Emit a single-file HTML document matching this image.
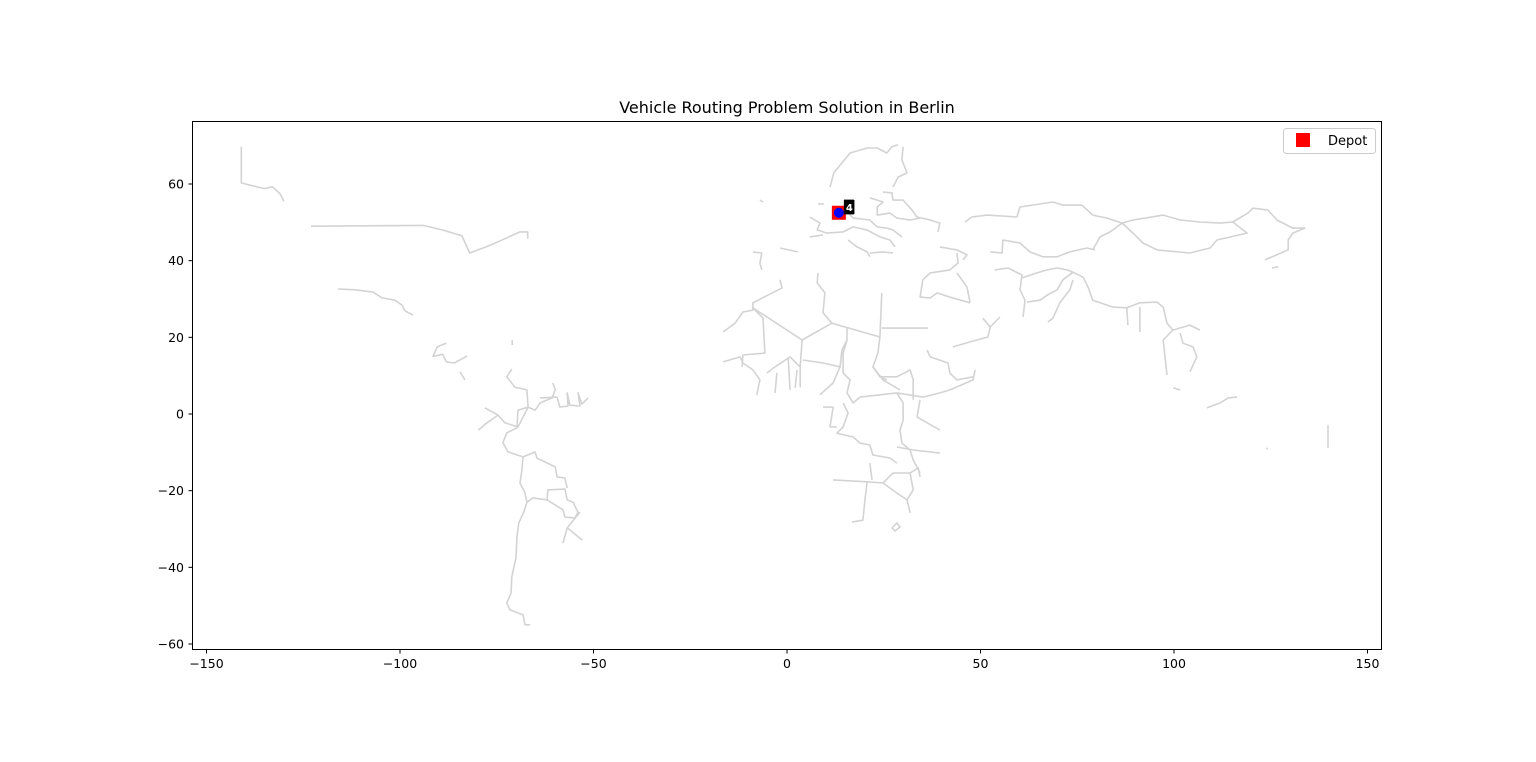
<!DOCTYPE html>
<html><head><meta charset="utf-8"><style>
html,body{margin:0;padding:0;background:#fff;}
svg{display:block;font-family:"DejaVu Sans","Liberation Sans",sans-serif;}
</style></head><body>
<svg id="chart" width="1536" height="762" viewBox="0 0 1536 762" xmlns="http://www.w3.org/2000/svg">
<rect width="1536" height="762" fill="#fff"/>
<text x="787" y="113" text-anchor="middle" font-size="16" fill="#000">Vehicle Routing Problem Solution in Berlin</text>
<g id="borders"></g>
<g id="axes"></g>
<g id="marks"></g>
<rect x="192.5" y="121.5" width="1189" height="528" fill="none" stroke="#000" stroke-width="1"/>
<g>
<rect x="1283.5" y="128.5" width="92" height="25" rx="3" fill="#fff" stroke="#ccc"/>
<rect x="1296" y="133" width="14" height="14" fill="#f00"/>
<text x="1328" y="145" font-size="13" fill="#000">Depot</text>
</g>
</svg>
<script>
const xTicks = [-150, -100, -50, 0, 50, 100, 150];
const yTicks = [60, 40, 20, 0, -20, -40, -60];
const depot = [13.4, 52.5];
const customerLabels = ["1", "2", "3", "4"];
const customerLon = [16.0, 16.1, 16.0, 16.1];
const customerLat = [54.1, 54.0, 53.9, 54.0];

const borders = [
"-141,69.7 -141,60.3 -138,59.5 -135,58.8 -133,59.3 -131,57.5 -130,55.5",
"-123,49 -94,49.2 -89,48 -84,46.5 -82,42 -76.7,44 -69,47.5 -67,47.5 -67,45.7",
"-116,32.6 -111.6,32.4 -107,31.8 -104.6,30.3 -101.3,29.7 -99.5,28.4 -98.7,26.9 -96.6,25.8",
"-88,18.5 -90.4,17.5 -91.5,15 -89,15.6 -88,13.6 -86,13.3 -82.7,15.1",
"-84.5,11 -83.2,8.9","-71,19.3 -71,18",
"-71.1,11.7 -72.4,9.7 -70.3,7 -67.2,6.3 -66.9,1.8 -65.1,1 -63.8,2.9 -60.7,4.2 -59.9,6.3 -60.5,8.1",
"-63.8,4.2 -59.4,4.4 -58.7,1.8 -56.6,2.1 -56.8,5.5 -56.1,2.3 -53.5,2.1 -54,5.5 -53,2.6 -51.4,4.2",
"-78,1.6 -74.7,-0.3 -72.9,-2.3 -69.5,-3.4 -66.9,1.8",
"-79.8,-4.2 -77.5,-2.3 -74.7,-0.3",
"-66.9,1.8 -69.5,1 -69.8,-3.6 -72.4,-4.9 -73.4,-7.5 -72.1,-9.9 -68.2,-11.2 -65.1,-9.9 -64.6,-11.5 -59.9,-13.8 -59.4,-16.4 -57.4,-16.7 -56.8,-19.3",
"-68.2,-11.2 -68.5,-14.6 -69,-18 -67.7,-20.6 -67.2,-23 -65.6,-21.9 -62,-22.4 -61.8,-19.8 -57.4,-19.6 -56.8,-22.4 -55.3,-23 -54,-25.6 -54.8,-27.1 -57.4,-26.9 -57.9,-25 -62,-22.4",
"-53.5,-25.6 -56.8,-29.7 -57.9,-33.7","-56.8,-29.7 -52.9,-32.9",
"-67.2,-23 -68,-25.6 -69.3,-28.4 -69.8,-32.1 -70,-37.3 -71.1,-42.5 -71.3,-46.7 -72.4,-49.3 -71.6,-51.1 -68.2,-52.4 -67.7,-55 -66.4,-55",
"11.1,59.2 12.1,62.9 14.2,65.5 16.3,68.1 20.7,69.4 23.3,69.4 25.8,68.1 27.1,69.7 28.7,70.2",
"30,69.7 29.7,66.3 31,62.9 28.7,61.8 27.4,59.2",
"24.8,57.9 27.1,57.7 27.4,55.8 30,55.8 32.3,53.2 33.6,51.4 37,50.6 39.5,49.8 39,47.5",
"21.4,56.4 24.8,55.3 23.3,54 23.3,51.9 26.6,52.4 28.4,51.1 31.8,50.6 34.4,51.1",
"15.5,52.7 17.1,51.1 21.4,50.6 23.3,48.8 25.8,48.5 27.4,48 29.7,46.2",
"5.9,51.4 8.5,49.8 7.8,48 10.3,47.2 14.5,47.5 17.1,48.8 20.7,48 24,46.2 26.6,45.4 27.9,43.6",
"5.9,46.2 9.3,46.7","15.8,45.4 18.1,43.6 20.7,42.3 21.4,41","21.4,42 24.8,42.3 27.4,42",
"-7,55.8 -6.2,55.3","8,54.8 9.5,54.8",
"39.5,43.6 43.9,42.8 46.5,41.5 45.5,40.2",
"43.9,42 44.2,39.4 42.1,37.6 37,36.8 35.1,35 34.4,30.5 37,30.3 38.8,31.6 42.1,30.5 47.3,29",
"47.3,29 46.5,33.1 43.9,36.8",
"-8.8,42.3 -6.5,42 -7,39.4 -6.5,37.6","-1.8,43.3 2.8,42.3",
"-1.8,35 -1.3,32.9 -8.8,29 -8.8,27.1 -11.4,26.6 -13.4,23.7 -16.5,21.4",
"-8.8,27.7 -6.2,25 -5.7,15.9 -11.4,15.4 -11.6,12.3",
"-8.8,27.7 3.9,19.3 3.4,12.3",
"3.9,19.3 11.6,23.7 15,22.7 24,20.1 24.5,31.6",
"8,36.8 7.8,34.2 9.8,31.6 9.3,26.4 11.6,23.7",
"24.5,22.4 36.4,22.4",
"15.5,22.7 15.5,19.3 14.2,16.7 13.7,12.3",
"24,20.1 23.5,15.9 22.2,12.3 24,9.7 25.8,8.9",
"-16.5,13.6 -12.1,14.9 -11.4,13.3 -8.8,11.5 -7,8.9 -7.8,5",
"-5.2,10.7 -3.1,12.3 0.8,14.9 3.4,12.3 3.4,7",
"0.3,14.6 0.8,6.3","-2.6,10.7 -3.1,5.5","2.6,11.5 2.1,6.8",
"4.1,14.1 9.3,13.3 13.7,12.3 11.9,8.1 8.5,5",
"15.5,19.3 14.5,15.9 14.5,10.7 16.3,8.9 15.5,5.5 17.1,2.9 18.9,4.4 28.4,5.5 35.1,4.4 39.5,5.5 42.1,6.3 48.1,8.9 48.6,11.5",
"22.2,12.3 24.8,8.9 29.2,6.3",
"24,9.7 28.4,9.7 31.8,11.5 32.6,8.9 32.6,3.7",
"36.2,16.7 37,14.9 41.6,13.3 42.1,10.7 43.9,8.9 48.1,9.7",
"9.3,1.8 11.9,1.8 11.1,-3.4 12.9,-3.4",
"14.5,2.9 15.8,0.3 14.5,-3.4 12.9,-5 17.1,-6 18.9,-7.6 21.4,-8.1 22.2,-10.7 26.6,-11.5 28.4,-12.8",
"28.4,5.5 30,2.9 30,-1.6 29.2,-4.2 29.7,-7.6 31.8,-9.4 32.6,-12 34.4,-15.4",
"34.4,3.7 33.6,-0.8 39.5,-4.2","28.4,-8.6 32.6,-9.4 39.5,-10.2",
"11.9,-17.2 20.7,-17.7 24.8,-18 28.4,-20.6 31,-22.4 32.6,-19.8 31.8,-15.4",
"20.7,-17.7 20.2,-21.9 19.6,-27.7 16.8,-28.2",
"21.4,-12.8 22,-17.2",
"24.8,-18 27.4,-15.4 31.8,-15.4 33.9,-14.1 34.4,-16.4",
"31,-22.4 31.8,-25.8",
"27.1,-29.7 28.4,-28.4 29.2,-29.5 27.9,-30.5 27.1,-29.7",
"50.6,25 52.5,22.7 55,25.3","52.5,22.7 51.9,20.1 47.3,18.8 42.9,17.5",
"46,50.1 47.8,51.4 51.7,51.9 59.4,51.4 60.2,54 68.7,55.3 71.3,54.5 76.2,54.5 79,51.9 82.7,51.1 86.6,49.8 83.5,47.5 80.9,46.2 79,42.8",
"86.6,49.8 89.4,50.6 97.2,51.9 101.6,50.6 106.7,50.1 111.9,49.8 115.2,50.1 118.9,47.2 111.1,45.4 109.3,43.3 104.1,42 95.6,42.8 92,44.6 89.4,47.2 86.6,49.8",
"115.2,50.1 119.1,52.4 120.4,53.7 124.3,53.2 126.6,50.6 130.7,48.5 133.8,48.5 130.7,47.2 129.5,45.4 129.5,42.8 123.5,40.2",
"125.3,38.1 126.9,38.4",
"52.5,42.3 55.6,42 55.8,45.4 60.2,44.6 62.8,42.3 66.1,41 69.8,41 73.1,42.3 77.5,43.3 79.6,42.8",
"53.7,37.6 57.1,38.1 60.7,36.3 60.2,32.4 61.5,29.7 61,25.3",
"60.7,35.5 64.6,36.8 67.2,37.6 69.8,38.1 72.4,37.6 73.9,37 71.3,35 69.8,32.4 67.2,31 65.4,29.7 62,29.2",
"73.9,37 76.5,35.7 77.8,33.1 79,29.7 84.2,27.9 87.8,27.7 91.2,29 95.6,29.2 97.2,27.9 98.2,23.7 99.7,21.9 97.2,19.3 98.2,10.2",
"73.9,35 73.1,32.4 70.5,29 68.7,25 67.4,24",
"99.7,21.9 104.1,23.2 106.7,21.9",
"101.6,21.1 102.3,18.5 104.9,17.5 105.9,14.9 104.1,11",
"87.8,27.7 88.1,23.2","91.2,27.9 91.2,21.4",
"99.8,6.8 101.6,6.3",
"108.5,1.6 111.9,2.9 114,4.2 116.3,4.4",
"139.8,-2.9 139.8,-8.9","123.8,-8.9 124.2,-9.1"
];

const SVGNS = "http://www.w3.org/2000/svg";
function xs(lon){ return 787 + lon * 3.87; }
function ys(lat){ return 414 - lat * 3.8333; }

const bg = document.getElementById('borders');
borders.forEach(function(s){
  const pts = s.split(' ').map(function(p){ const a = p.split(',').map(Number); return xs(a[0]).toFixed(1) + ',' + ys(a[1]).toFixed(1); }).join(' ');
  const pl = document.createElementNS(SVGNS, 'polyline');
  
  
  pl.setAttribute('points', pts);
  pl.setAttribute('fill', 'none');
  pl.setAttribute('stroke', '#d3d3d3');
  pl.setAttribute('stroke-width', '1.6');
  pl.setAttribute('stroke-linejoin', 'round');
  bg.appendChild(pl);
});

const ax = document.getElementById('axes');
xTicks.forEach(function(t){
  const x = xs(t);
  const l = document.createElementNS(SVGNS, 'line');
  
  
  l.setAttribute('x1', x); l.setAttribute('x2', x); l.setAttribute('y1', 649.5); l.setAttribute('y2', 653.5);
  l.setAttribute('stroke', '#000');
  ax.appendChild(l);
  const tx = document.createElementNS(SVGNS, 'text');
  
  
  tx.setAttribute('x', x); tx.setAttribute('y', 668);
  tx.setAttribute('text-anchor', 'middle'); tx.setAttribute('font-size', '12.5');
  tx.textContent = t < 0 ? '\u2212' + Math.abs(t) : String(t);
  ax.appendChild(tx);
});
yTicks.forEach(function(t){
  const y = ys(t);
  const l = document.createElementNS(SVGNS, 'line');
  
  
  l.setAttribute('x1', 188.5); l.setAttribute('x2', 192.5); l.setAttribute('y1', y); l.setAttribute('y2', y);
  l.setAttribute('stroke', '#000');
  ax.appendChild(l);
  const tx = document.createElementNS(SVGNS, 'text');
  
  
  tx.setAttribute('x', 184); tx.setAttribute('y', y + 4.5);
  tx.setAttribute('text-anchor', 'end'); tx.setAttribute('font-size', '12.5');
  tx.textContent = t < 0 ? '\u2212' + Math.abs(t) : String(t);
  ax.appendChild(tx);
});

const mk = document.getElementById('marks');
const dx = xs(depot[0]), dy = ys(depot[1]);
const sq = document.createElementNS(SVGNS, 'rect');


sq.setAttribute('x', dx - 7); sq.setAttribute('y', dy - 7); sq.setAttribute('width', 14); sq.setAttribute('height', 14);
sq.setAttribute('fill', '#f00');
mk.appendChild(sq);
const dc = document.createElementNS(SVGNS, 'circle');


dc.setAttribute('cx', dx); dc.setAttribute('cy', dy); dc.setAttribute('r', 5);
dc.setAttribute('fill', '#00f');
mk.appendChild(dc);
customerLabels.forEach(function(lab, i){
  const cx = xs(customerLon[i]), cy = ys(customerLat[i]);
  const b = document.createElementNS(SVGNS, 'rect');
  
  
  b.setAttribute('x', cx - 5); b.setAttribute('y', cy - 7); b.setAttribute('width', 10); b.setAttribute('height', 14);
  b.setAttribute('fill', '#000');
  mk.appendChild(b);
  const t = document.createElementNS(SVGNS, 'text');
  
  
  t.setAttribute('x', cx); t.setAttribute('y', cy + 4);
  t.setAttribute('text-anchor', 'middle'); t.setAttribute('font-size', '10'); t.setAttribute('font-weight', 'bold');
  t.setAttribute('fill', '#fff');
  t.textContent = lab;
  mk.appendChild(t);
});
</script>
</body></html>
